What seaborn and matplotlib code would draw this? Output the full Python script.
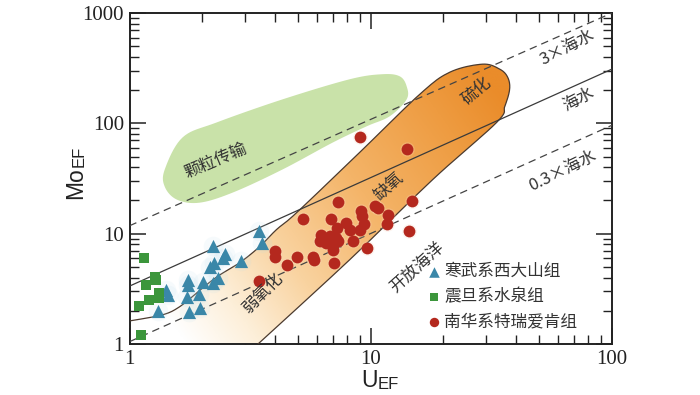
import matplotlib
matplotlib.use('Agg')
import numpy as np
import pandas as pd
import seaborn as sns
import matplotlib.pyplot as plt
from matplotlib.colors import LinearSegmentedColormap

# --- data (U_EF, Mo_EF) ---
xds_u = [3.44, 3.55, 2.22, 2.48, 2.44, 2.25, 2.15, 2.90, 1.75, 1.75,
         2.01, 2.33, 2.22, 1.42, 1.44, 1.73, 1.94, 1.31, 1.77, 1.96]
xds_mo = [10.5, 8.2, 7.7, 6.6, 6.0, 5.4, 4.98, 5.6, 3.82, 3.44,
          3.68, 3.96, 3.56, 3.1, 2.79, 2.69, 2.85, 2.01, 1.97, 2.11]

sq_u = [1.15, 1.27, 1.29, 1.17, 1.33, 1.32, 1.20, 1.09, 1.12]
sq_mo = [6.05, 4.09, 3.82, 3.44, 2.93, 2.60, 2.51, 2.21, 1.20]

tr_u = [7.32, 5.24, 6.87, 9.15, 9.23, 10.4, 10.7, 11.8, 11.7, 14.8,
        14.4, 9.42, 7.93, 8.18, 7.25, 9.0, 6.24, 6.76, 7.2, 6.14,
        6.55, 6.97, 7.32, 6.97, 8.45, 9.65, 4.0, 4.03, 4.5, 4.95,
        5.76, 5.85, 7.05, 3.46, 9.0, 14.1]
tr_mo = [19.3, 13.6, 13.6, 16.0, 14.4, 17.7, 17.1, 14.9, 12.3, 19.7,
         10.5, 12.3, 12.5, 10.9, 11.3, 10.9, 9.8, 9.45, 9.15, 8.5,
         8.2, 7.95, 8.5, 7.16, 8.5, 7.4, 6.9, 6.14, 5.23, 6.2,
         6.14, 5.8, 5.4, 3.76, 75.7, 58.0]

groups = ['寒武系西大山组', '震旦系水泉组', '南华系特瑞爱肯组']

# reference lines
sw_u, sw_mo = [1, 100], [3.35, 310]
sw3_u, sw3_mo = [1, 100], [11.8, 1000]
sw03_u, sw03_mo = [1, 100], [1.05, 96]

# particulate shuttle field outline
green_u = [1.40, 1.66, 2.30, 4.31, 8.18, 11.2, 13.2, 14.1, 14.1, 12.0,
           9.62, 6.96, 4.31, 2.68, 1.95, 1.57, 1.40]
green_mo = [38.2, 74.6, 102, 165, 251, 279, 267, 217, 165, 116,
            94, 67, 38.2, 23.6, 19.1, 20.4, 26.7]

# weakly oxic -> anoxic -> euxinic field outline
band_u = [1.0, 1.37, 1.61, 1.90, 2.30, 2.86, 3.46, 4.07, 4.93, 9.0,
          16.0, 21.3, 29.1, 34.3, 37.0, 37.7, 36.0, 33.3, 18.1, 8.18, 3.41]
band_mo = [1.62, 1.84, 2.17, 2.91, 4.06, 5.45, 7.62, 10.9, 15.5, 54.5,
           184, 291, 344, 310, 262, 204, 143, 102, 31, 5.8, 1.0]

df = pd.DataFrame({
    'U': xds_u + sq_u + tr_u,
    'Mo': xds_mo + sq_mo + tr_mo,
    'group': [groups[0]] * len(xds_u) + [groups[1]] * len(sq_u) + [groups[2]] * len(tr_u),
})


def smooth(xs, ys, closed=False, n=10):
    p = np.column_stack([np.log10(xs), np.log10(ys)])
    if closed:
        p = np.vstack([p[-1], p, p[0], p[1]])
    else:
        p = np.vstack([p[0], p, p[-1]])
    t = np.linspace(0, 1, n, endpoint=False)[:, None]
    out = []
    for i in range(1, len(p) - 2):
        p0, p1, p2, p3 = p[i - 1], p[i], p[i + 1], p[i + 2]
        out.append(0.5 * (2 * p1 + (-p0 + p2) * t + (2 * p0 - 5 * p1 + 4 * p2 - p3) * t ** 2
                          + (-p0 + 3 * p1 - 3 * p2 + p3) * t ** 3))
    if not closed:
        out.append(p[-2][None, :])
    out = np.vstack(out)
    return 10 ** out[:, 0], 10 ** out[:, 1]


sns.set_style('ticks')
plt.rcParams['font.family'] = ['Noto Sans CJK SC', 'DejaVu Sans']
plt.rcParams['axes.unicode_minus'] = False

fig = plt.figure(figsize=(7, 3.95), dpi=100)
ax = fig.add_axes([0.185, 0.129, 0.689, 0.838])
ax.set_xscale('log')
ax.set_yscale('log')

# green field
gx, gy = smooth(green_u, green_mo, closed=True)
ax.fill(gx, gy, color='#C9E2A9', lw=0, zorder=1)

# orange field with gradient
bx, by = smooth(band_u, band_mo)
fx = np.r_[bx, band_u[-1], 0.8, 0.8]
fy = np.r_[by, 0.8, 0.8, band_mo[0]]
poly = ax.fill(fx, fy, facecolor='none', lw=0, zorder=2)[0]
W, H = 400, 300
X, Y = np.meshgrid(np.linspace(0, 482.5, W), np.linspace(0, 331, H))
ax0, ay0, ax1, ay1 = 55, 0, 380, 235
dx, dy = ax1 - ax0, ay1 - ay0
grad = np.clip(((X - ax0) * dx + (Y - ay0) * dy) / (dx * dx + dy * dy), 0, 1)
cmap = LinearSegmentedColormap.from_list('ox', [
    (0.0, '#FFFFFF'), (0.15, '#FDEFD9'), (0.33, '#F9D3A0'),
    (0.58, '#F4B468'), (0.85, '#EE9B40'), (1.0, '#EA8C2A')])
img = ax.imshow(grad, extent=[0, 1, 0, 1], transform=ax.transAxes, cmap=cmap,
                origin='lower', aspect='auto', interpolation='bilinear', zorder=2)
img.set_clip_path(poly)
ax.plot(bx, by, color='#4B3A2E', lw=0.9, zorder=4)

# seawater ratio lines
ax.plot(sw_u, sw_mo, color='#3a3a3a', lw=0.9, zorder=4)
ax.plot(sw3_u, sw3_mo, color='#444444', lw=0.9, dashes=(6, 4), zorder=4)
ax.plot(sw03_u, sw03_mo, color='#444444', lw=0.9, dashes=(6, 4), zorder=4)

# soft halos
sub0 = df[df.group == groups[0]]
sub2 = df[df.group == groups[2]]
sns.scatterplot(data=sub0, x='U', y='Mo', s=200, color='#B7DCEC', alpha=0.12,
                linewidth=0, legend=False, ax=ax, zorder=5)
sns.scatterplot(data=sub2, x='U', y='Mo', s=110, color='#F6D2BC', alpha=0.25,
                linewidth=0, legend=False, ax=ax, zorder=5)

# points
sns.scatterplot(data=sub0, x='U', y='Mo', marker='^', s=90, color='#3A87A8',
                linewidth=0, label=groups[0], ax=ax, zorder=6)
sns.scatterplot(data=df[df.group == groups[1]], x='U', y='Mo', marker='s', s=52,
                color='#3C963C', linewidth=0, label=groups[1], ax=ax, zorder=6)
sns.scatterplot(data=sub2, x='U', y='Mo', marker='o', s=72, color='#B4281E',
                linewidth=0, label=groups[2], ax=ax, zorder=6)

ax.set_xlim(1, 100)
ax.set_ylim(1, 1000)

# region and line labels
lab = dict(color='#333333', fontsize=12, ha='center', va='center',
           rotation_mode='anchor', zorder=7)
ax.text(2.29, 45.4, '颗粒传输', rotation=23, **lab)
ax.text(27.5, 197, '硫化', rotation=40, **lab)
ax.text(11.9, 26.9, '缺氧', rotation=42, **lab)
ax.text(3.57, 2.89, '弱氧化', rotation=45, **lab)
ax.text(15.5, 4.91, '开放海洋', rotation=42, **lab)
ax.text(65.3, 488, '3×海水', rotation=27, **lab)
ax.text(72.5, 165, '海水', rotation=27, **lab)
ax.text(62.8, 36.8, '0.3×海水', rotation=26, **lab)

leg = ax.legend(loc='upper left', bbox_to_anchor=(0.62, 0.245), frameon=False,
                fontsize=12, handlelength=0.7, handletextpad=0.25, labelspacing=0.5,
                borderpad=0, borderaxespad=0, markerscale=0.8)
for t in leg.get_texts():
    t.set_color('#333333')

# axes styling
ax.set_xticks([1, 10, 100])
ax.set_xticklabels(['1', '10', '100'])
ax.set_yticks([1, 10, 100, 1000])
ax.set_yticklabels(['1', '10', '100', '1000'])
for lbl in ax.get_xticklabels() + ax.get_yticklabels():
    lbl.set_fontfamily('Liberation Serif')
    lbl.set_fontsize(15)
    lbl.set_color('#222222')
ax.tick_params(which='major', direction='in', length=11.5, width=1.1,
               top=True, right=True, pad=4, colors='#222222')
ax.tick_params(which='minor', direction='in', length=6.5, width=1.0,
               top=True, right=True, colors='#222222')
for sp in ax.spines.values():
    sp.set_linewidth(1.4)
    sp.set_color('#222222')
ax.set_xlabel('')
ax.set_ylabel('')

# axis titles: big letter + small caps "EF"
ut = fig.text(361 / 700, (395 - 392) / 395, 'U', fontsize=16.5, family='Liberation Sans',
              ha='left', va='bottom', color='#222222')
ax.annotate('EF', xy=(1, 0), xycoords=ut, ha='left', va='bottom', fontsize=12,
            family='Liberation Sans', color='#222222')
mt = fig.text(87 / 700, (395 - 199) / 395, 'Mo', fontsize=16.5, family='Liberation Sans',
              rotation=90, ha='right', va='bottom', color='#222222')
ax.annotate('EF', xy=(1, 1), xycoords=mt, ha='right', va='bottom', fontsize=12,
            rotation=90, family='Liberation Sans', color='#222222')

plt.savefig('out.png', dpi=100)
